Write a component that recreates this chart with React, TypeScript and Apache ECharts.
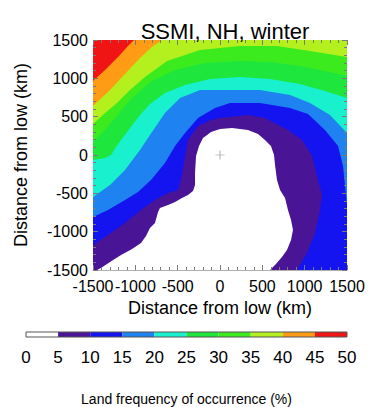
import React, { useEffect, useRef } from "react";
import * as echarts from "echarts";

const FONT = "'Liberation Sans', Arial, Helvetica, sans-serif";

// axis range (km)
const AXIS_MIN = -1500;
const AXIS_MAX = 1500;
const AXIS_STEP = 500;
// x tick labels drawn on two overlaid axes (they overlap in the original)
const xLabelsA = [-1500, -500, 500, 1500];
const xLabelsB = [-1000, 0, 1000];

// colour scale
const levels = [0, 5, 10, 15, 20, 25, 30, 35, 40, 45, 50];
const bandColors = [
  "#FFFFFF", // 0-5
  "#4A1496", // 5-10
  "#1414F0", // 10-15
  "#1E82F0", // 15-20
  "#19F0CD", // 20-25
  "#1EE63C", // 25-30
  "#3CEB1E", // 30-35
  "#B4F01E", // 35-40
  "#FF9B14", // 40-45
  "#F01414", // 45-50
];

// contour lines, [x km, y km]
// 45 %: top edge -> left edge
const contour45 = [[-1016, 1500], [-1087, 1422], [-1193, 1291], [-1358, 1109], [-1500, 965]];
// 40 %: top edge -> left edge
const contour40 = [[-685, 1500], [-791, 1422], [-945, 1265], [-1122, 1057], [-1299, 848], [-1500, 639]];
// 35 %: left edge -> right edge
const contour35 = [[-1500, 404], [-1358, 548], [-1217, 678], [-1063, 848], [-886, 1017], [-626, 1226], [-236, 1370], [236, 1422], [673, 1422], [1063, 1357], [1500, 1278]];
// 30 %
const contour30 = [[-1500, 170], [-1358, 326], [-1240, 483], [-1063, 717], [-827, 952], [-531, 1109], [-177, 1200], [236, 1226], [591, 1213], [945, 1161], [1240, 1096], [1500, 1030]];
// 25 %
const contour25 = [[-1500, -65], [-1358, -39], [-1287, 0], [-1228, 104], [-1169, 196], [-1063, 352], [-945, 522], [-827, 665], [-650, 809], [-413, 913], [-118, 991], [236, 1017], [591, 991], [945, 926], [1240, 835], [1500, 743]];
// 20 %
const contour20 = [[-1500, -548], [-1299, -391], [-1122, -196], [-945, 65], [-827, 261], [-650, 548], [-472, 743], [-236, 848], [118, 848], [472, 848], [827, 783], [1063, 678], [1299, 522], [1500, 287]];
// 15 %
const contour15 = [[-1500, -809], [-1323, -717], [-1122, -587], [-969, -483], [-815, -326], [-650, -104], [-531, 117], [-413, 287], [-260, 483], [-59, 613], [118, 678], [472, 678], [827, 613], [1039, 535], [1240, 326], [1394, 117], [1453, -143], [1476, -391], [1500, -652]];
// 10 %: left edge -> bottom edge
const contour10 = [[-1500, -1174], [-1323, -1043], [-1122, -887], [-933, -717], [-768, -587], [-614, -496], [-496, -457], [-461, -326], [-413, -13], [-378, 196], [-260, 378], [-106, 457], [0, 483], [331, 522], [531, 483], [803, 326], [969, 196], [1087, -13], [1157, -326], [1205, -522], [1181, -717], [1122, -1017], [1028, -1278], [909, -1500]];
// 5 %: bottom edge -> bottom edge
const contour5 = [[-1453, -1500], [-1406, -1474], [-1299, -1396], [-1169, -1304], [-1039, -1226], [-933, -1148], [-874, -1056], [-827, -952], [-768, -887], [-732, -743], [-709, -691], [-614, -652], [-531, -613], [-449, -561], [-378, -522], [-319, -470], [-295, -391], [-295, -235], [-283, -13], [-248, 117], [-201, 222], [-106, 300], [0, 339], [142, 352], [331, 326], [449, 274], [531, 196], [602, 117], [638, 0], [650, -130], [673, -326], [709, -457], [768, -561], [803, -717], [839, -848], [862, -978], [839, -1109], [791, -1239], [732, -1330], [661, -1422], [591, -1500]];

// low centre marker
const centre = [[0, 0]];

const BL = [AXIS_MIN, AXIS_MIN];
const BR = [AXIS_MAX, AXIS_MIN];
const TR = [AXIS_MAX, AXIS_MAX];
const TL = [AXIS_MIN, AXIS_MAX];

// painter's order: each layer is the region below a contour
const layers = [
  { color: bandColors[9], poly: [BL, BR, TR, TL] },
  { color: bandColors[8], poly: [...contour45, BL, BR, TR] },
  { color: bandColors[7], poly: [...contour40, BL, BR, TR] },
  { color: bandColors[6], poly: [...contour35, BR, BL] },
  { color: bandColors[5], poly: [...contour30, BR, BL] },
  { color: bandColors[4], poly: [...contour25, BR, BL] },
  { color: bandColors[3], poly: [...contour20, BR, BL] },
  { color: bandColors[2], poly: [...contour15, BR, BL] },
  { color: bandColors[1], poly: [...contour10, BL] },
  { color: bandColors[0], poly: [...contour5] },
];

const tickStyle = { color: "#7a7a7a", width: 1 };
const fmt = (v: number) => String(v);

export default function App() {
  const ref = useRef<HTMLDivElement>(null);
  useEffect(() => {
    if (!ref.current) return;
    const chart = echarts.init(ref.current, null, { renderer: "svg" });
    const axisCommon = {
      type: "value",
      min: AXIS_MIN,
      max: AXIS_MAX,
      interval: AXIS_STEP,
      z: 10,
      splitLine: { show: false },
      axisLine: { show: false, onZero: false },
      axisTick: { show: true, inside: true, length: 5, lineStyle: tickStyle },
      minorTick: { show: true, splitNumber: 5, length: 3, lineStyle: tickStyle },
    };
    const labelStyle = { fontFamily: FONT, fontSize: 16, color: "#000" };
    chart.setOption({
      animation: false,
      backgroundColor: "#ffffff",
      title: {
        text: "SSMI, NH, winter",
        left: 220,
        textAlign: "center",
        top: 15,
        textStyle: { fontFamily: FONT, fontSize: 22, fontWeight: "normal", color: "#000" },
      },
      grid: [
        { left: 93, top: 40, width: 254, height: 230 },
        { left: 26, top: 332, width: 321, height: 7 },
      ],
      xAxis: [
        {
          ...axisCommon,
          gridIndex: 0,
          position: "bottom",
          axisLine: { show: true, onZero: false, lineStyle: { color: "#b0b0b0", width: 1 } },
          name: "Distance from low (km)",
          nameLocation: "middle",
          nameGap: 29,
          nameTextStyle: { fontFamily: FONT, fontSize: 18, color: "#000" },
          axisLabel: { ...labelStyle, margin: 8, formatter: fmt, customValues: xLabelsA },
        },
        {
          ...axisCommon,
          gridIndex: 0,
          position: "top",
          axisLabel: { show: false },
        },
        {
          type: "value",
          gridIndex: 1,
          min: levels[0],
          max: levels[levels.length - 1],
          interval: 5,
          axisLine: { show: false },
          axisTick: { show: false },
          splitLine: { show: false },
          axisLabel: { fontFamily: FONT, fontSize: 17, color: "#000", margin: 12, formatter: fmt },
          name: "Land frequency of occurrence (%)",
          nameLocation: "middle",
          nameGap: 55,
          nameTextStyle: { fontFamily: FONT, fontSize: 14, color: "#000" },
        },
        {
          type: "value",
          gridIndex: 0,
          position: "bottom",
          min: AXIS_MIN,
          max: AXIS_MAX,
          interval: AXIS_STEP,
          axisLine: { show: false, onZero: false },
          axisTick: { show: false },
          splitLine: { show: false },
          axisLabel: { ...labelStyle, margin: 8, formatter: fmt, customValues: xLabelsB },
        },
      ],
      yAxis: [
        {
          ...axisCommon,
          gridIndex: 0,
          position: "left",
          name: "Distance from low (km)",
          nameLocation: "middle",
          nameGap: 63,
          nameTextStyle: { fontFamily: FONT, fontSize: 18, color: "#000" },
          axisLabel: { ...labelStyle, margin: 5, formatter: fmt, showMinLabel: true, showMaxLabel: true },
        },
        {
          ...axisCommon,
          gridIndex: 0,
          position: "right",
          axisLabel: { show: false },
        },
        { type: "value", gridIndex: 1, min: 0, max: 1, show: false },
      ],
      series: [
        {
          type: "custom",
          xAxisIndex: 0,
          yAxisIndex: 0,
          z: 2,
          data: layers.map((_, i) => [0, 0, i]),
          renderItem: (params: any, api: any) => {
            const layer = layers[params.dataIndex];
            const pts = layer.poly.map((p) => api.coord(p));
            return {
              type: "polygon",
              shape: { points: pts },
              style: { fill: layer.color, stroke: null },
            };
          },
        },
        {
          type: "scatter",
          xAxisIndex: 0,
          yAxisIndex: 0,
          z: 5,
          data: centre,
          symbol: "path://M4.6,0 H5.4 V4.6 H10 V5.4 H5.4 V10 H4.6 V5.4 H0 V4.6 H4.6 Z",
          symbolSize: 9,
          itemStyle: { color: "#777" },
        },
        {
          type: "custom",
          xAxisIndex: 2,
          yAxisIndex: 2,
          encode: { x: [0, 1] },
          data: bandColors.map((_, i) => [levels[i], levels[i + 1]]),
          renderItem: (params: any, api: any) => {
            const a = api.coord([api.value(0), 0]);
            const b = api.coord([api.value(1), 1]);
            return {
              type: "rect",
              shape: { x: a[0], y: b[1], width: b[0] - a[0], height: a[1] - b[1] },
              style: { fill: bandColors[params.dataIndex], stroke: null },
            };
          },
        },
        {
          type: "custom",
          xAxisIndex: 2,
          yAxisIndex: 2,
          z: 4,
          encode: { x: [0, 1] },
          data: [[levels[0], levels[levels.length - 1]]],
          renderItem: (params: any, api: any) => {
            const a = api.coord([api.value(0), 0]);
            const b = api.coord([api.value(1), 1]);
            return {
              type: "rect",
              shape: { x: a[0], y: b[1], width: b[0] - a[0], height: a[1] - b[1] },
              style: { fill: "none", stroke: "#555", lineWidth: 1 },
            };
          },
        },
      ],
    });
    return () => chart.dispose();
  }, []);
  return (
    <div
      ref={ref}
      style={{ position: "fixed", left: 0, top: 0, width: 372, height: 407, background: "#fff" }}
    />
  );
}
